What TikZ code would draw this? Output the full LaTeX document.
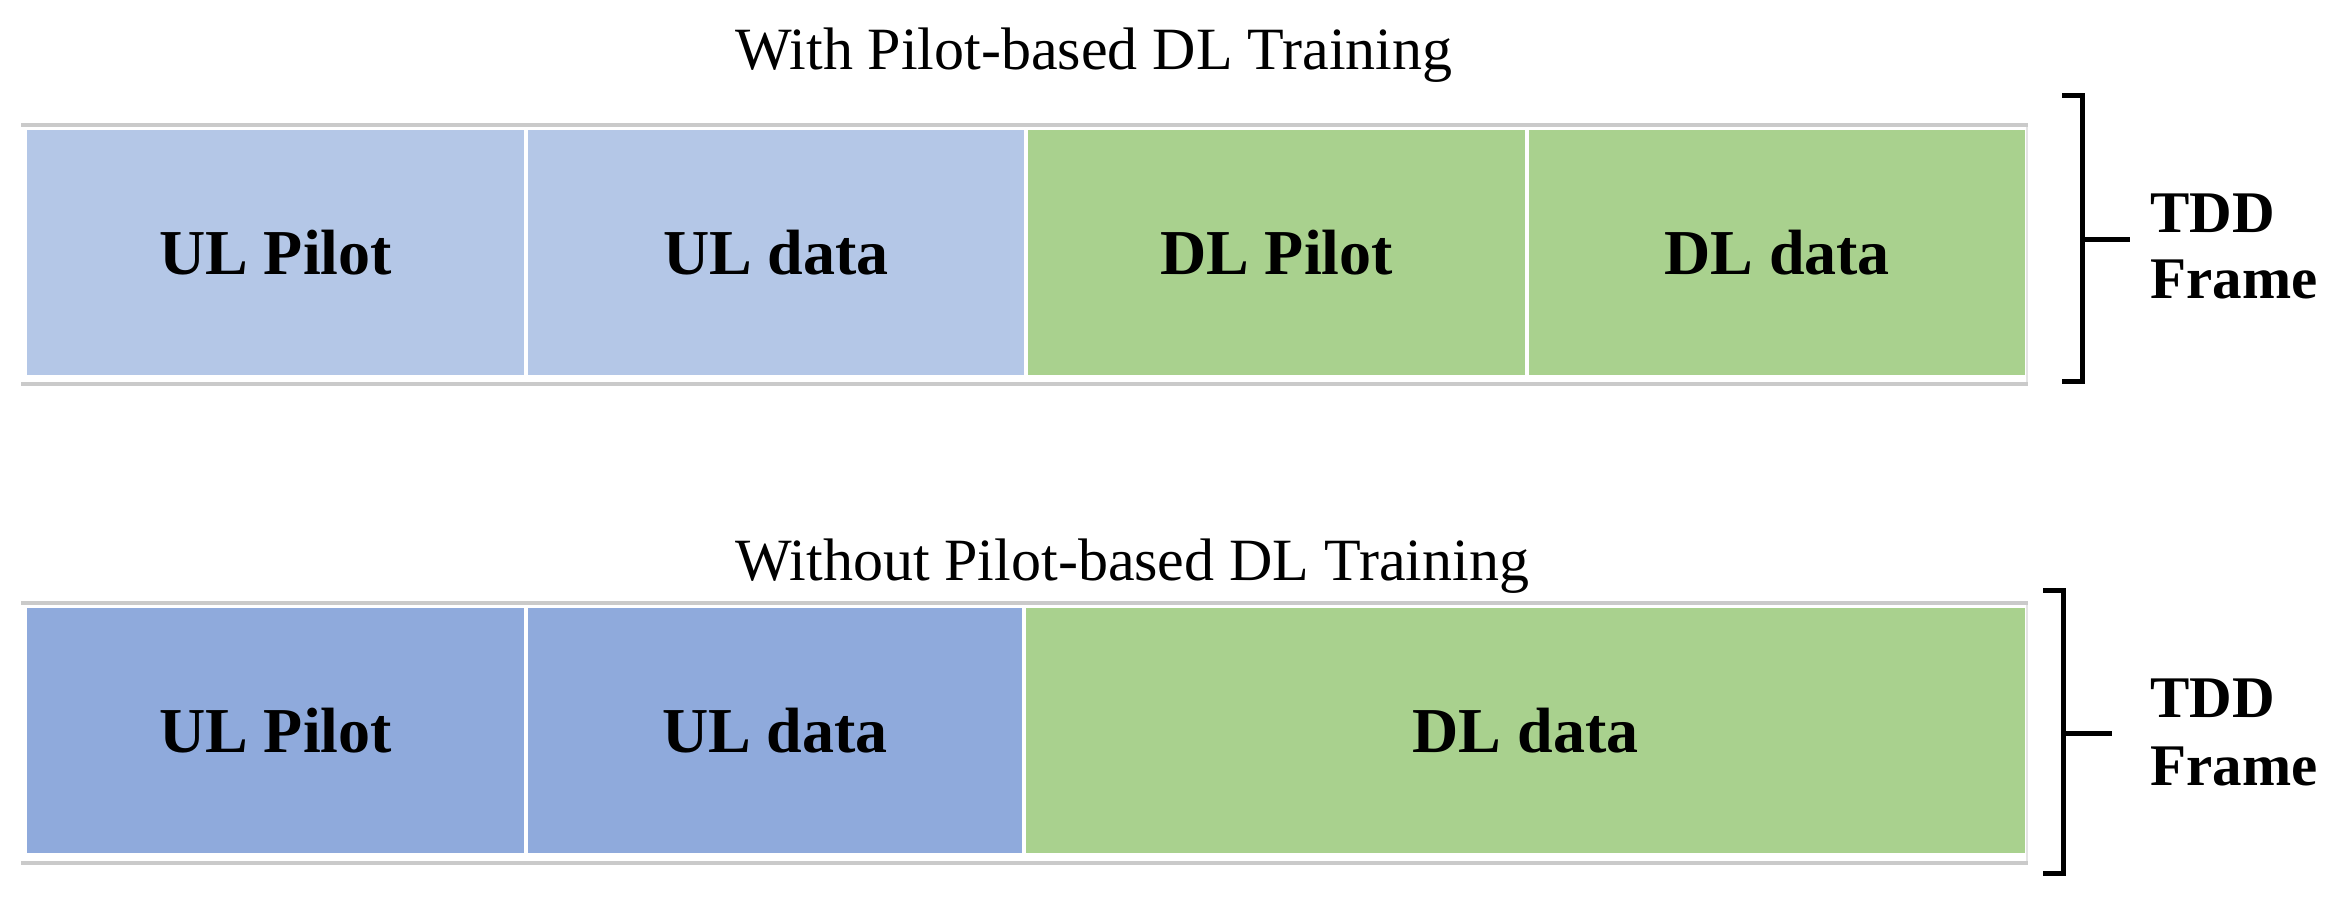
\documentclass[tikz,border=0pt]{standalone}
\usepackage{fontspec}
\setmainfont{Liberation Serif}
\definecolor{ulA}{HTML}{B4C7E7}
\definecolor{ulB}{HTML}{8FAADC}
\definecolor{dlG}{HTML}{A9D18E}
\definecolor{rulegray}{HTML}{CACACA}
\definecolor{edgegray}{HTML}{E4E4E4}
\begin{document}
\begin{tikzpicture}[x=0.5pt,y=-0.5pt,
  cell/.style={rectangle, draw=white, line width=2pt, inner sep=0pt, outer sep=0pt,
    minimum height=124.5pt, text=black, font=\fontsize{32}{38}\selectfont\bfseries},
  titletext/.style={anchor=base west, inner sep=0pt, font=\fontsize{30}{36}\selectfont},
  lbl/.style={anchor=base west, inner sep=0pt, font=\fontsize{29.5}{34}\selectfont\bfseries},
  rul/.style={draw=rulegray, line width=2pt},
  edge/.style={draw=edgegray, line width=1pt},
  brk/.style={draw=black, line width=2.5pt, line join=miter}]
\useasboundingbox (0,0) rectangle (2332,899);

% ---- top frame ----
\node[titletext] (h1) at (735,70) {With Pilot-based DL Training};
\node[cell, fill=ulA, minimum width=250.5pt] (t1) at (275.5,252.5) {UL Pilot};
\node[cell, fill=ulA, minimum width=250pt]   (t2) at (776,252.5)   {UL data};
\node[cell, fill=dlG, minimum width=250.5pt] (t3) at (1276.5,252.5) {DL Pilot};
\node[cell, fill=dlG, minimum width=250pt]   (t4) at (1777,252.5)  {DL data};
\draw[rul] (21,125) -- (2028,125);
\draw[rul] (21,384) -- (2028,384);
\draw[edge] (2027,127) -- (2027,382);

\coordinate (b1a) at (2062,96);
\coordinate (b1b) at (2082,96);
\coordinate (b1c) at (2082,381);
\coordinate (b1d) at (2062,381);
\coordinate (b1m) at (2082,239);
\coordinate (b1t) at (2130,239);
\draw[brk] (b1a) -- (b1b) -- (b1c) -- (b1d);
\draw[brk] (b1m) -- (b1t);
\node[lbl] (tdd1) at (2150,232) {TDD};
\node[lbl] (fr1) at (2150,298) {Frame};

% ---- bottom frame ----
\node[titletext] (h2) at (735,580) {Without Pilot-based DL Training};
\node[cell, fill=ulB, minimum width=250.5pt] (u1) at (275.5,730.5) {UL Pilot};
\node[cell, fill=ulB, minimum width=249pt]   (u2) at (775,730.5)   {UL data};
\node[cell, fill=dlG, minimum width=501.5pt] (u3) at (1525.5,730.5) {DL data};
\draw[rul] (21,603) -- (2028,603);
\draw[rul] (21,863) -- (2028,863);
\draw[edge] (2027,605) -- (2027,861);

\coordinate (b2a) at (2043,590);
\coordinate (b2b) at (2063,590);
\coordinate (b2c) at (2063,873);
\coordinate (b2d) at (2043,873);
\coordinate (b2m) at (2063,733);
\coordinate (b2t) at (2112,733);
\draw[brk] (b2a) -- (b2b) -- (b2c) -- (b2d);
\draw[brk] (b2m) -- (b2t);
\node[lbl] (tdd2) at (2150,717) {TDD};
\node[lbl] (fr2) at (2150,785) {Frame};
\end{tikzpicture}
\end{document}
